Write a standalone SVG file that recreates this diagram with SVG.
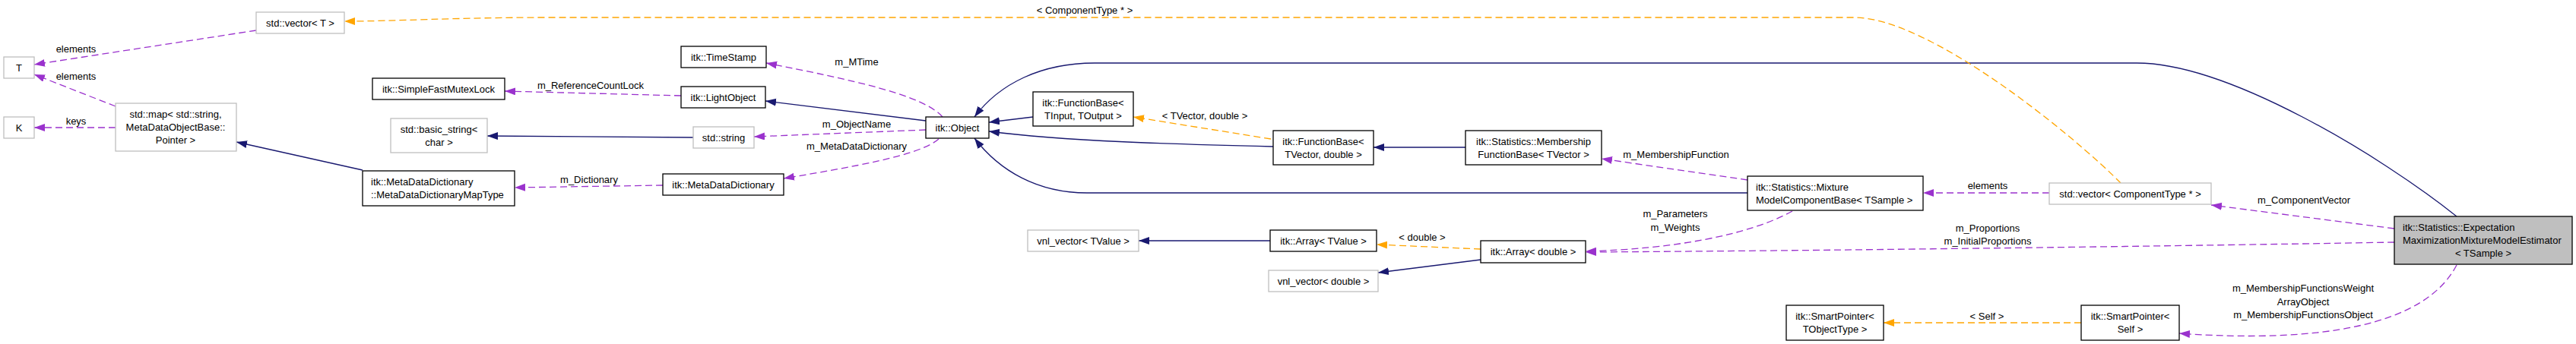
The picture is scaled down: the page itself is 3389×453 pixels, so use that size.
<svg xmlns="http://www.w3.org/2000/svg" width="3389" height="453" viewBox="0 0 3389 453">
<style>
text{font-family:"Liberation Sans",Arial,Helvetica,sans-serif;font-size:13px;fill:#000}
.m{text-anchor:middle}
.nd rect{fill:#fff;stroke:#000;stroke-width:1.3}
.nd.g rect{stroke:#bfbfbf}
.nd.main rect{fill:#bfbfbf}
.e path{fill:none;stroke-width:1.3}
.inh{stroke:#191970;marker-end:url(#an)}
.use{stroke:#9a32cd;stroke-dasharray:9,5;marker-end:url(#ap)}
.tpl{stroke:#ffa500;stroke-dasharray:9,5;marker-end:url(#ao)}
</style>
<defs>
<marker id="an" markerUnits="userSpaceOnUse" markerWidth="15" markerHeight="11" refX="14" refY="5" orient="auto"><path d="M0,0 L14,5 L0,10 z" fill="#191970"/></marker>
<marker id="ap" markerUnits="userSpaceOnUse" markerWidth="15" markerHeight="11" refX="14" refY="5" orient="auto"><path d="M0,0 L14,5 L0,10 z" fill="#9a32cd"/></marker>
<marker id="ao" markerUnits="userSpaceOnUse" markerWidth="15" markerHeight="11" refX="14" refY="5" orient="auto"><path d="M0,0 L14,5 L0,10 z" fill="#ffa500"/></marker>
</defs>
<rect width="3389" height="453" fill="#fff"/>
<g id="connectors" class="e">
<path class="use" d="M337,40 L45,85"/>
<text class="m" x="100" y="69">elements</text>
<path class="use" d="M152,140 L45,98"/>
<text class="m" x="100" y="105">elements</text>
<path class="use" d="M152,168 L45,168"/>
<text class="m" x="100" y="164">keys</text>
<path class="inh" d="M477,224 L311,187"/>
<path class="use" d="M896,126 L664,120"/>
<text class="m" x="777" y="117">m_ReferenceCountLock</text>
<path class="inh" d="M912,181 L641,179"/>
<path class="use" d="M872,244 L677,247"/>
<text class="m" x="775" y="241">m_Dictionary</text>
<path class="use" d="M1240,154 C1215,125 1120,105 1008,83"/>
<text class="m" x="1127" y="86">m_MTime</text>
<path class="inh" d="M1218,159 L1007,133"/>
<path class="use" d="M1218,171 L992,180"/>
<text class="m" x="1127" y="168">m_ObjectName</text>
<path class="use" d="M1235,183 C1210,205 1120,220 1031,235"/>
<text class="m" x="1127" y="197">m_MetaDataDictionary</text>
<path class="inh" d="M1359,154 L1301,161"/>
<path class="inh" d="M1675,193 C1550,190 1400,186 1301,173"/>
<path class="tpl" d="M1672,183 L1491,154"/>
<text class="m" x="1585" y="157">&lt; TVector, double &gt;</text>
<path class="inh" d="M1928,194 L1807,194"/>
<path class="inh" d="M3232,285 C3132,205 2931,83 2811,83 L1440,83 C1370,83 1315,110 1282,154"/>
<path class="inh" d="M2299,254 L1430,254 C1365,254 1315,225 1282,182"/>
<path class="use" d="M2299,237 L2107,209"/>
<text class="m" x="2205" y="208">m_MembershipFunction</text>
<path class="tpl" d="M2790,241 C2730,180 2539,23 2439,23 L720,23 C600,23 520,28 453,28"/>
<text class="m" x="1427" y="18">&lt; ComponentType * &gt;</text>
<path class="use" d="M2696,254 L2530,254"/>
<text class="m" x="2615" y="249">elements</text>
<path class="use" d="M3150,301 L2909,270"/>
<text class="m" x="3031" y="268">m_ComponentVector</text>
<path class="use" d="M3150,319 C2800,325 2400,330 2086,332"/>
<text class="m" x="2615" y="305">m_Proportions</text>
<text class="m" x="2615" y="322">m_InitialProportions</text>
<path class="use" d="M2358,278 C2300,310 2200,328 2086,331"/>
<text class="m" x="2204" y="286">m_Parameters</text>
<text class="m" x="2204" y="304">m_Weights</text>
<path class="tpl" d="M1948,328 L1811,322"/>
<text class="m" x="1871" y="317">&lt; double &gt;</text>
<path class="inh" d="M1671,317 L1498,317"/>
<path class="inh" d="M1948,342 L1813,359"/>
<path class="tpl" d="M2738,425 L2478,425"/>
<text class="m" x="2614" y="421">&lt; Self &gt;</text>
<path class="use" d="M3232,349 C3190,430 3050,452 2867,439"/>
<text class="m" x="3030" y="384">m_MembershipFunctionsWeight</text>
<text class="m" x="3030" y="402">ArrayObject</text>
<text class="m" x="3030" y="419">m_MembershipFunctionsObject</text>
</g>
<g id="n_T" class="nd g"><rect x="5" y="75" width="40" height="28"/><text class="m" x="25" y="93.5">T</text></g>
<g id="n_K" class="nd g"><rect x="5" y="154" width="40" height="28"/><text class="m" x="25" y="172.5">K</text></g>
<g id="n_vectorT" class="nd g"><rect x="337" y="16" width="116" height="28"/><text class="m" x="395" y="34.5">std::vector&lt; T &gt;</text></g>
<g id="n_map" class="nd g"><rect x="152" y="136" width="159" height="63"/><text class="m" x="231" y="154.5">std::map&lt; std::string,</text><text class="m" x="231" y="171.5">MetaDataObjectBase::</text><text class="m" x="231" y="188.5">Pointer &gt;</text></g>
<g id="n_mutex" class="nd"><rect x="490" y="103" width="174" height="28"/><text class="m" x="577" y="121.5">itk::SimpleFastMutexLock</text></g>
<g id="n_basicstring" class="nd g"><rect x="514" y="156" width="127" height="45"/><text class="m" x="577.5" y="174.5">std::basic_string&lt;</text><text class="m" x="577.5" y="191.5">char &gt;</text></g>
<g id="n_maptype" class="nd"><rect x="477" y="225" width="200" height="46"/><text x="488" y="243.5">itk::MetaDataDictionary</text><text x="488" y="260.5">::MetaDataDictionaryMapType</text></g>
<g id="n_timestamp" class="nd"><rect x="896" y="61" width="112" height="28"/><text class="m" x="952" y="79.5">itk::TimeStamp</text></g>
<g id="n_lightobject" class="nd"><rect x="896" y="114" width="111" height="28"/><text class="m" x="951.5" y="132.5">itk::LightObject</text></g>
<g id="n_string" class="nd g"><rect x="912" y="167" width="80" height="28"/><text class="m" x="952" y="185.5">std::string</text></g>
<g id="n_mdd" class="nd"><rect x="872" y="229" width="159" height="28"/><text class="m" x="951.5" y="247.5">itk::MetaDataDictionary</text></g>
<g id="n_object" class="nd"><rect x="1218" y="154" width="83" height="28"/><text class="m" x="1259.5" y="172.5">itk::Object</text></g>
<g id="n_fbInOut" class="nd"><rect x="1359" y="121" width="132" height="45"/><text class="m" x="1425" y="139.5">itk::FunctionBase&lt;</text><text class="m" x="1425" y="156.5">TInput, TOutput &gt;</text></g>
<g id="n_fbVec" class="nd"><rect x="1675" y="172" width="132" height="45"/><text class="m" x="1741" y="190.5">itk::FunctionBase&lt;</text><text class="m" x="1741" y="207.5">TVector, double &gt;</text></g>
<g id="n_membership" class="nd"><rect x="1928" y="172" width="179" height="45"/><text class="m" x="2017.5" y="190.5">itk::Statistics::Membership</text><text class="m" x="2017.5" y="207.5">FunctionBase&lt; TVector &gt;</text></g>
<g id="n_vnlTValue" class="nd g"><rect x="1352" y="303" width="146" height="28"/><text class="m" x="1425" y="321.5">vnl_vector&lt; TValue &gt;</text></g>
<g id="n_arrayTValue" class="nd"><rect x="1671" y="303" width="140" height="28"/><text class="m" x="1741" y="321.5">itk::Array&lt; TValue &gt;</text></g>
<g id="n_arrayDouble" class="nd"><rect x="1948" y="317" width="138" height="29"/><text class="m" x="2017" y="336">itk::Array&lt; double &gt;</text></g>
<g id="n_vnlDouble" class="nd g"><rect x="1669" y="356" width="144" height="28"/><text class="m" x="1741" y="374.5">vnl_vector&lt; double &gt;</text></g>
<g id="n_mixture" class="nd"><rect x="2299" y="232" width="231" height="45"/><text x="2310" y="250.5">itk::Statistics::Mixture</text><text x="2310" y="267.5">ModelComponentBase&lt; TSample &gt;</text></g>
<g id="n_vectorComp" class="nd g"><rect x="2696" y="241" width="213" height="28"/><text class="m" x="2802.5" y="259.5">std::vector&lt; ComponentType * &gt;</text></g>
<g id="n_spTObject" class="nd"><rect x="2350" y="402" width="128" height="46"/><text class="m" x="2414" y="420.5">itk::SmartPointer&lt;</text><text class="m" x="2414" y="437.5">TObjectType &gt;</text></g>
<g id="n_spSelf" class="nd"><rect x="2738" y="402" width="129" height="46"/><text class="m" x="2802.5" y="420.5">itk::SmartPointer&lt;</text><text class="m" x="2802.5" y="437.5">Self &gt;</text></g>
<g id="n_estimator" class="nd main"><rect x="3150" y="285" width="234" height="63"/><text x="3161" y="303.5">itk::Statistics::Expectation</text><text x="3161" y="320.5">MaximizationMixtureModelEstimator</text><text class="m" x="3267" y="337.5">&lt; TSample &gt;</text></g>
</svg>
